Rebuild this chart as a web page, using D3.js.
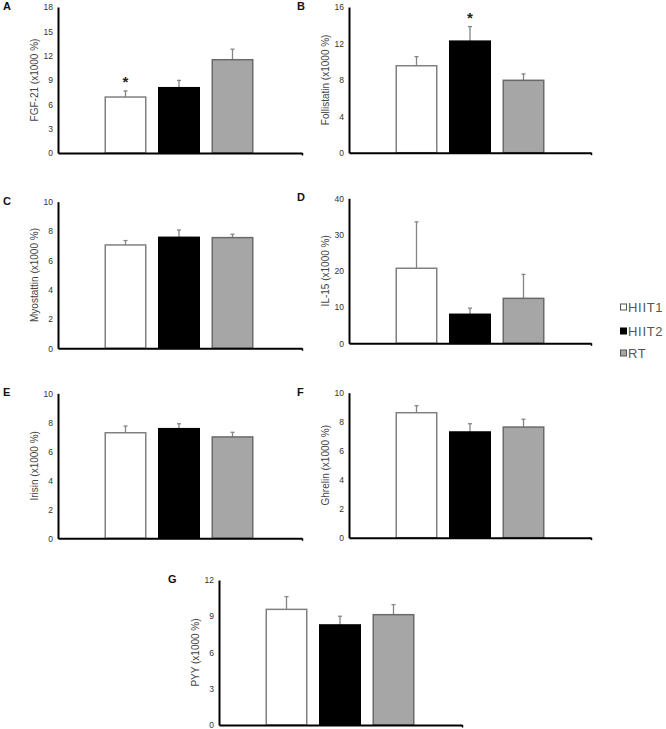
<!DOCTYPE html>
<html><head><meta charset="utf-8">
<script src="https://cdn.jsdelivr.net/npm/d3@7"></script>
<style>
html,body{margin:0;padding:0;background:#fff;}
svg{display:block;font-family:"Liberation Sans",Arial,sans-serif;}
</style></head>
<body>
<svg id="chart" width="666" height="729"></svg>
<script>
const groups = ["HIIT1", "HIIT2", "RT"];
const panelLetters = ["A", "B", "C", "D", "E", "F", "G"];
const yLabels = ["FGF-21 (x1000 %)", "Follistatin (x1000 %)", "Myostattin (x1000 %)", "IL-15 (x1000 %)", "Irisin (x1000 %)", "Ghrelin (x1000 %)", "PYY (x1000 %)"];
const yMax = [18, 16, 10, 40, 10, 10, 12];
const yTicks = [
  [0, 3, 6, 9, 12, 15, 18],
  [0, 4, 8, 12, 16],
  [0, 2, 4, 6, 8, 10],
  [0, 10, 20, 30, 40],
  [0, 2, 4, 6, 8, 10],
  [0, 2, 4, 6, 8, 10],
  [0, 3, 6, 9, 12]
];
const meansFGF21 = [6.9, 8.05, 11.5];
const errFGF21 = [0.75, 0.9, 1.3];
const meansFollistatin = [9.55, 12.25, 7.95];
const errFollistatin = [1.0, 1.6, 0.7];
const meansMyostatin = [7.05, 7.57, 7.55];
const errMyostatin = [0.3, 0.5, 0.23];
const meansIL15 = [20.7, 8.0, 12.4];
const errIL15 = [12.8, 1.7, 6.6];
const meansIrisin = [7.28, 7.56, 6.99];
const errIrisin = [0.46, 0.34, 0.32];
const meansGhrelin = [8.62, 7.29, 7.63];
const errGhrelin = [0.48, 0.57, 0.54];
const meansPYY = [9.57, 8.28, 9.13];
const errPYY = [1.05, 0.72, 0.83];
const stars = [[0], [1], [], [], [], [], []];

const means = [meansFGF21, meansFollistatin, meansMyostatin, meansIL15, meansIrisin, meansGhrelin, meansPYY];
const errs = [errFGF21, errFollistatin, errMyostatin, errIL15, errIrisin, errGhrelin, errPYY];

// layout (pixel frames of each panel)
const frames = [
  {x0: 58, x1: 302, top: 7, bottom: 153},
  {x0: 349, x1: 591, top: 7, bottom: 152.7},
  {x0: 58, x1: 302, top: 201.7, bottom: 348.3},
  {x0: 349, x1: 591, top: 198.3, bottom: 343.3},
  {x0: 58, x1: 302, top: 393.3, bottom: 538.3},
  {x0: 349, x1: 591, top: 392.7, bottom: 537.7},
  {x0: 219, x1: 462, top: 580, bottom: 725}
];
const fills = {HIIT1: "#ffffff", HIIT2: "#000000", RT: "#a6a6a6"};
const strokes = {HIIT1: "#808080", HIIT2: "#000000", RT: "#6a6a6a"};

const svg = d3.select("#chart");

frames.forEach((f, i) => {
  const g = svg.append("g");
  const y = d3.scaleLinear().domain([0, yMax[i]]).range([f.bottom, f.top]);
  const x = d3.scaleBand().domain(groups)
    .range([f.x0 + 46.5, f.x0 + 46.5 + 149]).paddingInner(0.215).paddingOuter(0);

  groups.forEach((grp, k) => {
    const v = means[i][k], e = errs[i][k];
    const bx = x(grp), bw = x.bandwidth();
    const cx = bx + bw / 2;
    g.append("line").attr("x1", cx).attr("x2", cx)
      .attr("y1", y(v)).attr("y2", y(v + e))
      .attr("stroke", "#858585").attr("stroke-width", 1.3);
    g.append("line").attr("x1", cx - 2).attr("x2", cx + 2)
      .attr("y1", y(v + e)).attr("y2", y(v + e))
      .attr("stroke", "#858585").attr("stroke-width", 1.3);
    g.append("rect")
      .attr("x", bx + 0.75).attr("y", y(v))
      .attr("width", bw - 1.5).attr("height", y(0) - y(v))
      .attr("fill", fills[grp]).attr("stroke", strokes[grp]).attr("stroke-width", 1.5);
    if (stars[i].includes(k)) {
      g.append("text").attr("x", cx).attr("y", y(v + e) - 4)
        .attr("text-anchor", "middle").attr("font-size", 15).attr("font-weight", "bold")
        .attr("fill", "#222").text("*");
    }
  });

  const ya = d3.axisLeft(y).tickValues(yTicks[i]).tickSize(0).tickPadding(5).tickFormat(d3.format("d"));
  const yg = g.append("g").attr("transform", `translate(${f.x0},0)`).call(ya);
  yg.select(".domain").attr("stroke", "#000").attr("stroke-width", 2);
  yg.selectAll("text").attr("font-size", 8.5).attr("fill", "#333")
    .attr("font-family", "'Liberation Sans',Arial,sans-serif");

  const xs = d3.scaleLinear().domain([0, 1]).range([f.x0, f.x1]);
  const xa = d3.axisBottom(xs).tickValues([1]).tickSize(2.5).tickFormat("").tickSizeOuter(0);
  const xg = g.append("g").attr("transform", `translate(0,${f.bottom})`).call(xa);
  xg.select(".domain").attr("stroke", "#000").attr("stroke-width", 2);
  xg.selectAll(".tick line").attr("stroke", "#000").attr("stroke-width", 1.5);

  const cy = (f.top + f.bottom) / 2;
  g.append("text")
    .attr("transform", `translate(${f.x0 - 24},${cy}) rotate(-90)`)
    .attr("text-anchor", "middle").attr("dominant-baseline", "central")
    .attr("font-size", 10).attr("fill", "#444").text(yLabels[i]);

  const lx = i === 6 ? 168 : (i % 2 === 0 ? 3 : 297);
  g.append("text").attr("x", lx).attr("y", f.top + 3)
    .attr("font-size", 11).attr("font-weight", "bold").attr("fill", "#111")
    .text(panelLetters[i]);
});

const legY = [307, 331, 353];
const leg = svg.append("g");
groups.forEach((grp, k) => {
  leg.append("rect").attr("x", 620.5).attr("y", legY[k] - 3)
    .attr("width", 6).attr("height", 6)
    .attr("fill", fills[grp]).attr("stroke", grp === "HIIT2" ? "#000" : "#555").attr("stroke-width", 1);
  leg.append("text").attr("x", 628).attr("y", legY[k])
    .attr("dominant-baseline", "central").attr("font-size", 13)
    .attr("letter-spacing", 0.7).attr("fill", "#555").text(grp);
});
</script>
</body></html>
